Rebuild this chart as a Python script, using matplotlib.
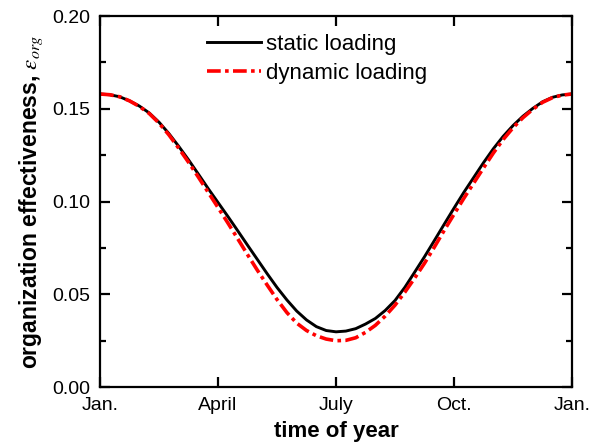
import matplotlib
matplotlib.use("Agg")
from matplotlib import pyplot as plt

plt.rcParams['font.family'] = ['Liberation Sans', 'DejaVu Sans']
plt.rcParams['mathtext.fontset'] = 'stix'

# month of year (0 = Jan., 12 = next Jan.), read every quarter month
months = [0, 0.25, 0.5, 0.75, 1, 1.25, 1.5, 1.75, 2, 2.25, 2.5, 2.75,
          3, 3.25, 3.5, 3.75, 4, 4.25, 4.5, 4.75, 5, 5.25, 5.5, 5.75,
          6, 6.25, 6.5, 6.75, 7, 7.25, 7.5, 7.75, 8, 8.25, 8.5, 8.75,
          9, 9.25, 9.5, 9.75, 10, 10.25, 10.5, 10.75, 11, 11.25, 11.5, 11.75, 12]

static_eff = [0.158, 0.1576, 0.1565, 0.1543, 0.1515, 0.1478, 0.1428, 0.1367, 0.1298, 0.1225, 0.1148, 0.1070,
              0.0995, 0.0920, 0.0843, 0.0765, 0.0688, 0.0611, 0.0537, 0.0470, 0.0410, 0.0362, 0.0326, 0.0305,
              0.0298, 0.0302, 0.0315, 0.0340, 0.0370, 0.0413, 0.0467, 0.0538, 0.0620, 0.0703, 0.0790, 0.0878,
              0.0965, 0.1050, 0.1130, 0.1210, 0.1285, 0.1352, 0.1410, 0.1460, 0.1502, 0.1538, 0.1562, 0.1575, 0.158]

dynamic_eff = [0.158, 0.1576, 0.1565, 0.1543, 0.1513, 0.1475, 0.1423, 0.1360, 0.1288, 0.1212, 0.1132, 0.1050,
               0.0968, 0.0885, 0.0800, 0.0714, 0.0630, 0.0550, 0.0472, 0.0402, 0.0345, 0.0305, 0.0277, 0.0259,
               0.0250, 0.0252, 0.0266, 0.0295, 0.0333, 0.0383, 0.0442, 0.0512, 0.0588, 0.0668, 0.0755, 0.0845,
               0.0932, 0.1018, 0.1100, 0.1182, 0.1262, 0.1335, 0.1398, 0.1452, 0.1497, 0.1535, 0.1560, 0.1574, 0.158]

tick_pos = [0, 3, 6, 9, 12]
tick_labels = ['Jan.', 'April', 'July', 'Oct.', 'Jan.']

fig = plt.figure(figsize=(5.99, 4.47), dpi=100)
ax = fig.add_axes([0.167, 0.134, 0.788, 0.830])

ax.plot(months, static_eff, color='black', lw=2.1, label='static loading')
ax.plot(months, dynamic_eff, color='red', lw=2.6, dashes=(3.8, 1.2, 1.0, 1.2), label='dynamic loading')

ax.set_xlim(0, 12)
ax.set_ylim(0, 0.20)
ax.set_xticks(tick_pos)
ax.set_xticklabels(tick_labels)
ax.set_yticks([0, 0.05, 0.10, 0.15, 0.20])
ax.set_yticklabels(['0.00', '0.05', '0.10', '0.15', '0.20'])
ax.set_yticks([0.025, 0.075, 0.125, 0.175], minor=True)

ax.tick_params(which='both', direction='in', top=True, right=True, labelsize=14, width=1.6)
ax.tick_params(which='major', length=7, pad=7)
ax.tick_params(which='minor', length=4.5)
for s in ax.spines.values():
    s.set_linewidth(1.6)

ax.set_xlabel('time of year', fontsize=16, fontweight='bold', labelpad=5)
ax.set_ylabel(r'organization effectiveness, $\varepsilon_{org}$', fontsize=16.5, fontweight='bold', labelpad=5)

ax.legend(loc='upper left', bbox_to_anchor=(0.227, 0.951), frameon=False, fontsize=16,
          borderpad=0, borderaxespad=0, handlelength=2.4, handletextpad=0.25, labelspacing=0.36)

fig.savefig('out.png', dpi=100)
